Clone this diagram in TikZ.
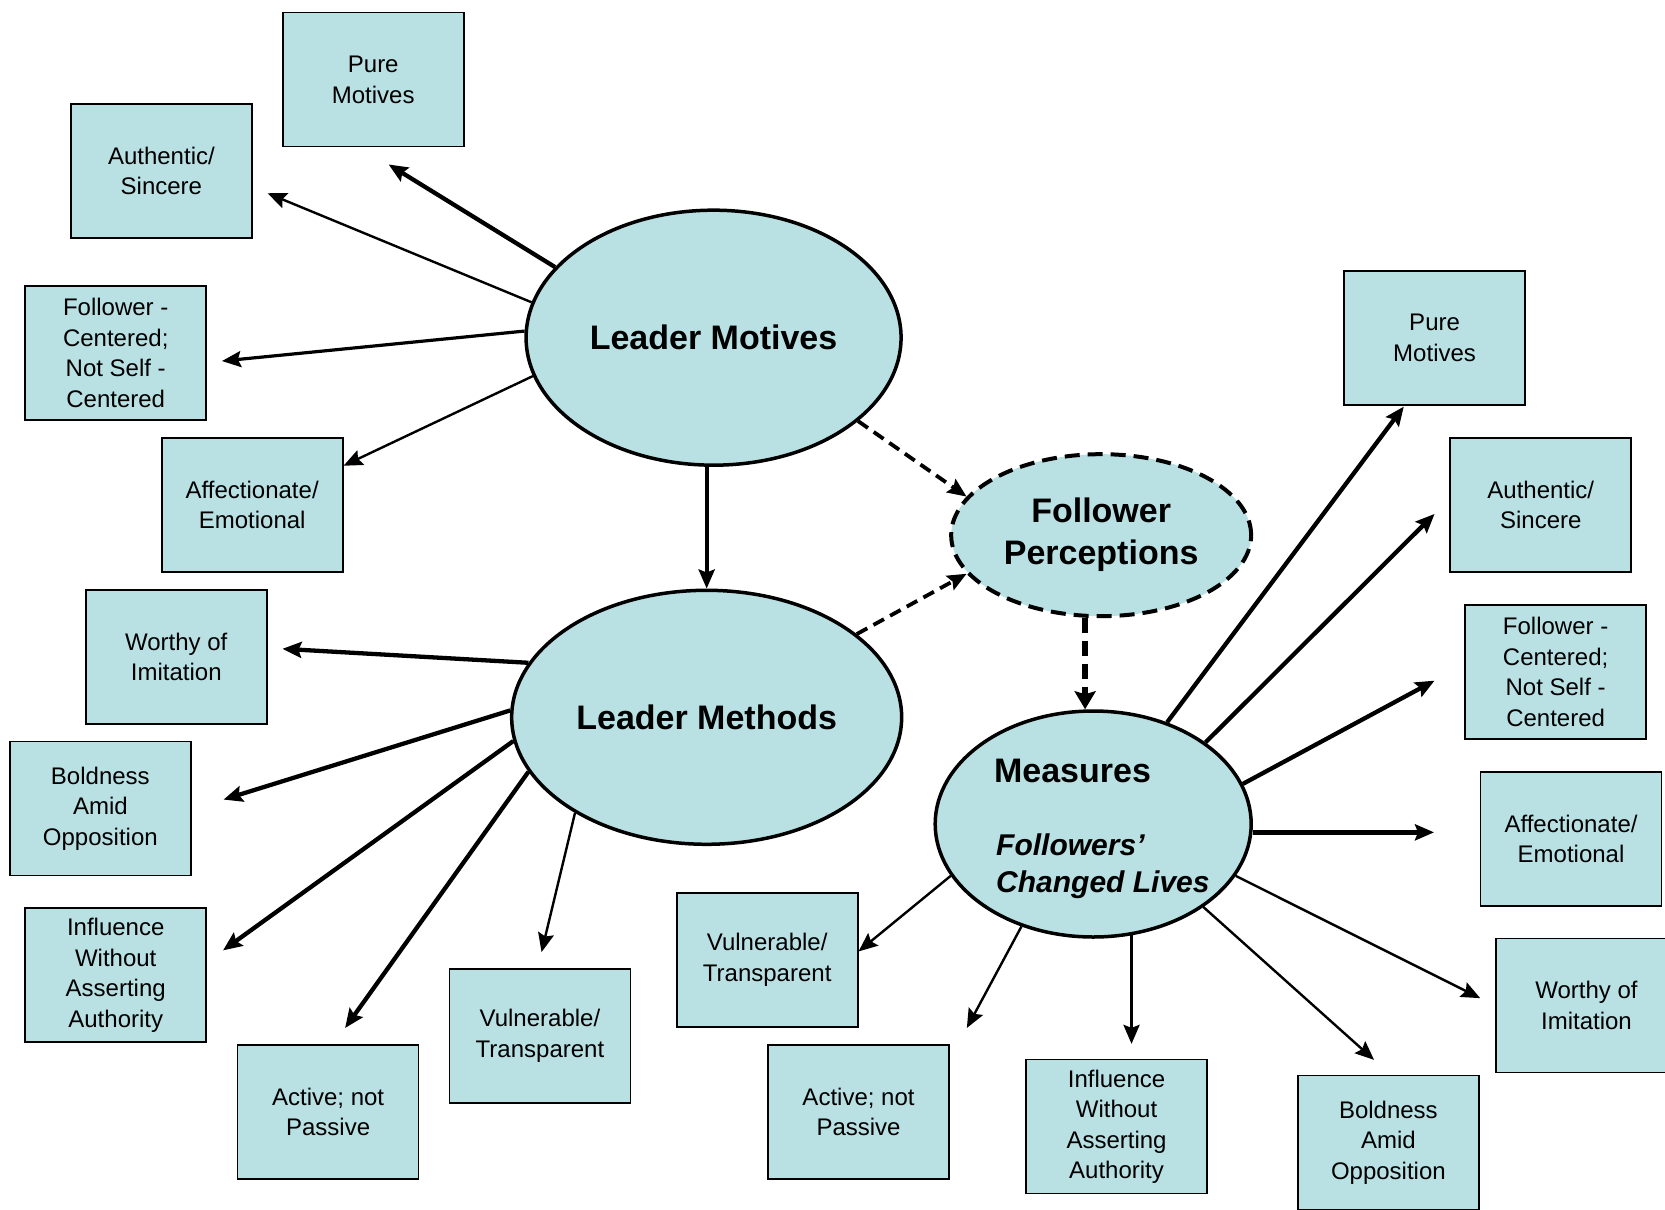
\documentclass[tikz,border=0pt]{standalone}
\usepackage{fontspec}
\setmainfont{Liberation Sans}
\usetikzlibrary{arrows.meta, calc, shapes.geometric}
\definecolor{paleteal}{RGB}{185,224,227}

\begin{document}
\begin{tikzpicture}[x=1.0619pt, y=-1.0619pt, >={Stealth[length=19pt, width=16pt, inset=3pt]}]
    \tikzset{
        hub/.style={ellipse, draw, line width=3.5pt, fill=paleteal, inner sep=0pt, align=center, font=\fontsize{34}{42}\selectfont\bfseries},
        trait/.style={rectangle, draw, line width=1.7pt, fill=paleteal, minimum width=181pt, minimum height=134pt, inner sep=0pt, align=center, font=\fontsize{24}{30.5}\selectfont},
        heavy/.style={line width=4.3pt},
        medium/.style={line width=3.2pt},
        light/.style={line width=2.4pt},
        hint/.style={line width=3.8pt, dash pattern=on 12pt off 7pt}
    };
    \useasboundingbox (0, 0) rectangle (1568, 1139);
    \node[hub, minimum width=375pt, minimum height=255pt] (lmot) at (672, 318) {Leader Motives};
    \node[hub, minimum width=390pt, minimum height=254pt] (lmeth) at (665.5, 675.5) {Leader Methods};
    \node[hub, line width=4pt, dash pattern=on 15pt off 8pt, minimum width=300pt, minimum height=162pt] (fp) at (1037, 504) {Follower\\Perceptions};
    \node[hub, minimum width=316pt, minimum height=226pt] (ms) at (1029.5, 776) {};
    \node[anchor=base west, inner sep=0pt, font=\fontsize{34}{42}\selectfont\bfseries] (mstitle) at (936, 737) {Measures};
    \node[anchor=north west, inner sep=0pt, align=left, font=\fontsize{30}{37}\selectfont\bfseries\itshape] (mssub) at (938, 785) {Followers’\\Changed Lives};
    \node[trait] (mot1) at (351.5, 75) {Pure\\Motives};
    \node[trait] (mot2) at (152, 161) {Authentic/\\Sincere};
    \node[trait] (mot3) at (109, 332.5) {Follower -\\Centered;\\Not Self -\\Centered};
    \node[trait] (mot4) at (237.5, 475.5) {Affectionate/\\Emotional};
    \node[trait] (meth1) at (166, 618.5) {Worthy of\\Imitation};
    \node[trait] (meth2) at (94.5, 761.5) {Boldness\\Amid\\Opposition};
    \node[trait] (meth3) at (109, 918.5) {Influence\\Without\\Asserting\\Authority};
    \node[trait] (meth4) at (309, 1047) {Active; not\\Passive};
    \node[trait] (meth5) at (508.5, 975.5) {Vulnerable/\\Transparent};
    \node[trait] (meas1) at (1351, 318) {Pure\\Motives};
    \node[trait] (meas2) at (1451, 475.5) {Authentic/\\Sincere};
    \node[trait] (meas3) at (1465, 633) {Follower -\\Centered;\\Not Self -\\Centered};
    \node[trait] (meas4) at (1479.5, 790) {Affectionate/\\Emotional};
    \node[trait] (meas5) at (1494, 947) {Worthy of\\Imitation};
    \node[trait] (meas6) at (1307.5, 1076) {Boldness\\Amid\\Opposition};
    \node[trait] (meas7) at (1051.5, 1061) {Influence\\Without\\Asserting\\Authority};
    \node[trait] (meas8) at (808.5, 1047) {Active; not\\Passive};
    \node[trait] (meas9) at (722.5, 904) {Vulnerable/\\Transparent};
    \path[->]
        (lmot.156) edge[heavy] ($(mot1.south)+(14.5, 16)$)
        (lmot.169) edge[light] ($(mot2.east)+(14, 21)$)
        (lmot.178) edge[medium] ($(mot3.east)+(14, 7.5)$)
        (lmot.192) edge[light] ($(mot4.north east)+(0, 27)$)
        (lmot.south -| lmeth.north) edge[heavy] (lmeth.north)
        (lmeth.163) edge[heavy] ($(meth1.east)+(14, -7.5)$)
        (lmeth.178) edge[heavy] ($(meth2.east)+(30, -8.5)$)
        (lmeth.187) edge[heavy] ($(meth3.east)+(15, -23.5)$)
        (lmeth.197) edge[heavy] ($(meth4.north)+(16, -15)$)
        (lmeth.216) edge[light] ($(meth5.north)+(1.5, -15)$)
    ;
    \path[->, hint]
        (lmot.330) edge (fp.164)
        (lmeth.29) edge (fp.196)
    ;
    \draw[->, line width=6.5pt, dash pattern=on 15pt off 8pt, >={Stealth[length=18pt, width=21pt, inset=3pt]}] (fp.259) -- (fp.259 |- ms.north);
    \coordinate (tip4) at ($(meas4.west)+(-43, 0)$);
    \coordinate (tip7) at ($(meas7.north)+(14.5, -14)$);
    \path[->]
        (ms.54) edge[heavy] ($(meas1.south)+(-29, 1)$)
        (ms.36) edge[heavy] ($(meas2.west)+(-14, 8.5)$)
        (ms.15) edge[heavy] ($(meas3.west)+(-28, 8)$)
        (ms.357) edge[heavy] (tip4 |- ms.357)
        (ms.340) edge[light] ($(meas5.west)+(-14, -7)$)
        (ms.323) edge[light] ($(meas6.north)+(-13.5, -14)$)
        (ms.289) edge[medium] (ms.289 |- tip7)
        (ms.235) edge[light] ($(meas8.north east)+(16, -15)$)
        (ms.200) edge[light] ($(meas9.east)+(0, -8)$)
    ;
\end{tikzpicture}
\end{document}
